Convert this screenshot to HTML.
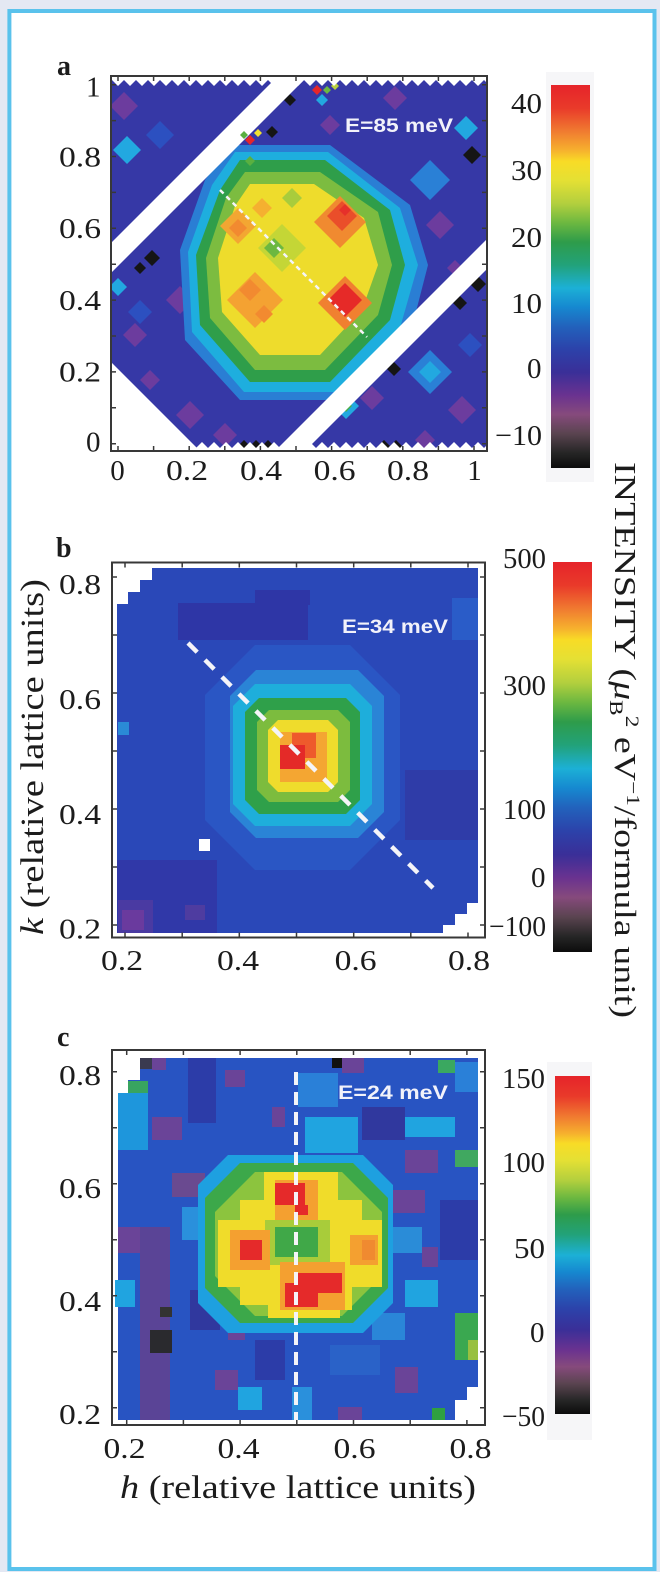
<!DOCTYPE html>
<html><head><meta charset="utf-8"><title>chart</title>
<style>
html,body{margin:0;padding:0;background:#e4e8f3}
svg{display:block}
.t{font-family:"Liberation Serif",serif;font-size:29px;fill:#1c1c1c}
.e{font-family:"Liberation Sans",sans-serif;font-weight:bold;font-size:19px;fill:#f2f2fa}
.lb{font-family:"Liberation Serif",serif;font-weight:bold;font-size:28px;fill:#1c1c1c}
.ax{font-family:"Liberation Serif",serif;font-size:33px;fill:#1c1c1c}
</style></head><body>
<svg width="660" height="1572" viewBox="0 0 660 1572" xmlns="http://www.w3.org/2000/svg">
<defs>
<linearGradient id="cmap" x1="0" y1="0" x2="0" y2="1">
<stop offset="0" stop-color="#e6242a"/>
<stop offset="0.06" stop-color="#e93a2a"/>
<stop offset="0.12" stop-color="#f07a30"/>
<stop offset="0.17" stop-color="#f6b02e"/>
<stop offset="0.20" stop-color="#f8dc26"/>
<stop offset="0.25" stop-color="#e4e034"/>
<stop offset="0.31" stop-color="#b2cf3e"/>
<stop offset="0.36" stop-color="#6cb840"/>
<stop offset="0.41" stop-color="#2e9c4a"/>
<stop offset="0.47" stop-color="#22a27a"/>
<stop offset="0.53" stop-color="#1cb0d6"/>
<stop offset="0.58" stop-color="#1688d0"/>
<stop offset="0.63" stop-color="#2262bc"/>
<stop offset="0.69" stop-color="#2c42aa"/>
<stop offset="0.75" stop-color="#3a2f98"/>
<stop offset="0.81" stop-color="#6a3290"/>
<stop offset="0.86" stop-color="#864a7c"/>
<stop offset="0.91" stop-color="#5a4450"/>
<stop offset="0.96" stop-color="#262626"/>
<stop offset="1" stop-color="#0c0c0c"/>
</linearGradient>
<clipPath id="ca"><rect x="112" y="77" width="374" height="373"/></clipPath>
<clipPath id="cb"><rect x="113" y="563.5" width="371" height="373"/></clipPath>
<clipPath id="cc"><rect x="113" y="1051" width="371" height="373"/></clipPath>
<pattern id="zt" x="112" y="80" width="12" height="6" patternUnits="userSpaceOnUse"><path d="M0 0H12L6 6Z" fill="#fff"/></pattern>
<pattern id="zb" x="112" y="442" width="12" height="6" patternUnits="userSpaceOnUse"><path d="M0 6H12L6 0Z" fill="#fff"/></pattern>
</defs>

<rect width="660" height="1572" fill="#e4e8f3"/>
<rect x="9.4" y="11" width="645.1" height="1558" fill="#ffffff" stroke="#5ac2ec" stroke-width="4"/>

<!-- ================= PANEL A ================= -->
<rect x="546" y="72" width="48" height="410" fill="#f6f6f8"/>
<g clip-path="url(#ca)">
<rect x="111" y="76" width="376" height="375" fill="#fff"/>
<rect x="112" y="80" width="374" height="368" fill="#3638a6"/>
<g fill="#6c3c9e">
<polygon points="124,92 138,106 124,120 110,106"/>
<polygon points="180,286 194,300 180,314 166,300"/>
<polygon points="135,323 147,335 135,347 123,335"/>
<polygon points="150,370 160,380 150,390 140,380"/>
<polygon points="190,401 204,415 190,429 176,415"/>
<polygon points="225,423 237,435 225,447 213,435"/>
<polygon points="440,211 454,225 440,239 426,225"/>
<polygon points="395,86 407,98 395,110 383,98"/>
<polygon points="372,386 384,398 372,410 360,398"/>
<polygon points="462,396 476,410 462,424 448,410"/>
<polygon points="425,430 435,440 425,450 415,440"/>
<polygon points="330,115 340,125 330,135 320,125"/>
<polygon points="160,200 170,210 160,220 150,210"/>
<polygon points="455,260 463,268 455,276 447,268"/>
</g>
<g fill="#2c50c0">
<polygon points="160,121 174,135 160,149 146,135"/>
<polygon points="470,333 482,345 470,357 458,345"/>
<polygon points="140,300 152,312 140,324 128,312"/>
</g>
<g fill="#2a80d6">
<polygon points="430,160 450,180 430,200 410,180"/>
<polygon points="430,350 452,372 430,394 408,372"/>
</g>
<g fill="#22a8e0">
<polygon points="127,136 141,150 127,164 113,150"/>
<polygon points="118,278 127,287 118,296 109,287"/>
<polygon points="466,116 478,128 466,140 454,128"/>
<polygon points="430,361 441,372 430,383 419,372"/>
<polygon points="346,393 359,406 346,419 333,406"/>
</g>
<polygon points="346,400 352,406 346,412 340,406" fill="#4aae4a"/>
<!-- blob -->
<polygon points="230,145 330,145 410,205 428,265 410,335 338,400 240,400 185,340 180,250 205,180" fill="#2a7ed4"/>
<polygon points="235,152 328,152 400,208 418,265 400,328 334,392 244,392 192,332 188,252 212,185" fill="#1eaede"/>
<polygon points="240,160 325,160 390,210 405,265 390,320 330,382 250,382 200,325 196,255 220,190" fill="#2f9e4a"/>
<polygon points="245,172 320,172 378,212 392,265 378,315 325,370 255,370 210,318 206,258 226,198" fill="#7cbc40"/>
<polygon points="250,184 314,184 364,218 378,265 362,310 320,355 260,355 222,312 218,258 235,206" fill="#eedc2c"/>
<polygon points="282,224 306,248 282,272 258,248" fill="#c4d636"/>
<polygon points="274,238 284,248 274,258 264,248" fill="#6cb840"/>
<polygon points="292,188 302,198 292,208 282,198" fill="#a8cc3c"/>
<!-- lobes -->
<polygon points="238,208 256,226 238,244 220,226" fill="#f3a632"/>
<polygon points="238,219 247,228 238,237 229,228" fill="#f28a30"/>
<polygon points="262,198 272,208 262,218 252,208" fill="#f5b030"/>
<polygon points="340,196 366,222 340,248 314,222" fill="#f08a30"/>
<polygon points="342,201 357,216 342,231 327,216" fill="#ea4e2a"/>
<polygon points="345,204 351,210 345,216 339,210" fill="#e6302a"/>
<polygon points="255,272 283,300 255,328 227,300" fill="#f4a232"/>
<polygon points="250,279 261,290 250,301 239,290" fill="#f28a30"/>
<polygon points="264,305 273,314 264,323 255,314" fill="#f28a30"/>
<polygon points="345,276 372,303 345,330 318,303" fill="#f08030"/>
<polygon points="345,283 362,300 345,317 328,300" fill="#e62a28"/>
<line x1="220" y1="190" x2="367" y2="337" stroke="#f4f4f8" stroke-width="2.5" stroke-dasharray="5 4"/>
<g fill="#151515">
<polygon points="272,126 278,132 272,138 266,132"/>
<polygon points="290,94 296,100 290,106 284,100"/>
<polygon points="152,250 160,258 152,266 144,258"/>
<polygon points="140,262 146,268 140,274 134,268"/>
<polygon points="472,146 481,155 472,164 463,155"/>
<polygon points="478,276 486,284 478,292 470,284"/>
<polygon points="460,296 467,303 460,310 453,303"/>
<polygon points="394,362 401,369 394,376 387,369"/>
<polygon points="244,440 250,446 244,452 238,446"/>
<polygon points="256,440 262,446 256,452 250,446"/>
<polygon points="268,440 274,446 268,452 262,446"/>
<polygon points="384,440 390,446 384,452 378,446"/>
<polygon points="396,440 402,446 396,452 390,446"/>
</g>
<g fill="#ffffff">
<polygon points="111,243 279,75 309,75 111,273"/>
<polygon points="488,238 488,268 305,451 275,451"/>
<polygon points="111,362 111,452 201,452"/>
</g>
<polygon points="250,135 255,140 250,145 245,140" fill="#e4262a"/>
<polygon points="258,129 262,133 258,137 254,133" fill="#f0e030"/>
<polygon points="244,131 248,135 244,139 240,135" fill="#5ab040"/>
<polygon points="250,156 255,161 250,166 245,161" fill="#5ab040"/>
<polygon points="322,94 328,100 322,106 316,100" fill="#22a8e0"/>
<polygon points="317,85 322,90 317,95 312,90" fill="#e4262a"/>
<polygon points="327,86 331,90 327,94 323,90" fill="#6cb840"/>
<polygon points="335,82 339,86 335,90 331,86" fill="#b8d040"/>
<rect x="112" y="77" width="374" height="3" fill="#fff"/>
<rect x="112" y="80" width="374" height="6" fill="url(#zt)"/>
<rect x="112" y="442" width="374" height="6" fill="url(#zb)"/>
<rect x="112" y="448" width="374" height="3" fill="#fff"/>
</g>
<text class="e" x="345" y="132" textLength="108" lengthAdjust="spacingAndGlyphs">E=85 meV</text>
<rect x="111" y="76" width="376" height="375" fill="none" stroke="#383838" stroke-width="2"/>
<path d="M118 451v-5M153.6 451v-5M189.2 451v-5M224.8 451v-5M260.4 451v-5M296 451v-5M331.6 451v-5M367.2 451v-5M402.8 451v-5M438.4 451v-5M474 451v-5M118 76v5M153.6 76v5M189.2 76v5M224.8 76v5M260.4 76v5M296 76v5M331.6 76v5M367.2 76v5M402.8 76v5M438.4 76v5M474 76v5M111 84.7h5M111 120.6h5M111 156.5h5M111 192.4h5M111 228.3h5M111 264.2h5M111 300.1h5M111 336h5M111 371.9h5M111 407.8h5M111 443.7h5M487 84.7h-5M487 120.6h-5M487 156.5h-5M487 192.4h-5M487 228.3h-5M487 264.2h-5M487 300.1h-5M487 336h-5M487 371.9h-5M487 407.8h-5M487 443.7h-5" stroke="#383838" stroke-width="1.5" fill="none"/>
<text class="lb" x="57" y="75">a</text>
<text class="t" x="86" y="96.7">1</text>
<text class="t" x="59" y="166.7" textLength="42" lengthAdjust="spacingAndGlyphs">0.8</text>
<text class="t" x="59" y="238" textLength="42" lengthAdjust="spacingAndGlyphs">0.6</text>
<text class="t" x="59" y="310" textLength="42" lengthAdjust="spacingAndGlyphs">0.4</text>
<text class="t" x="59" y="381.7" textLength="42" lengthAdjust="spacingAndGlyphs">0.2</text>
<text class="t" x="86" y="451.7">0</text>
<text class="t" x="110.3" y="480">0</text>
<text class="t" x="166" y="480" textLength="42" lengthAdjust="spacingAndGlyphs">0.2</text>
<text class="t" x="240" y="480" textLength="42" lengthAdjust="spacingAndGlyphs">0.4</text>
<text class="t" x="313.6" y="480" textLength="42" lengthAdjust="spacingAndGlyphs">0.6</text>
<text class="t" x="387" y="480" textLength="42" lengthAdjust="spacingAndGlyphs">0.8</text>
<text class="t" x="467.2" y="480">1</text>
<rect x="551" y="85" width="39" height="383" fill="url(#cmap)"/>
<text class="t" x="511" y="113" textLength="31" lengthAdjust="spacingAndGlyphs">40</text>
<text class="t" x="511" y="180" textLength="31" lengthAdjust="spacingAndGlyphs">30</text>
<text class="t" x="511" y="247" textLength="31" lengthAdjust="spacingAndGlyphs">20</text>
<text class="t" x="511" y="313" textLength="31" lengthAdjust="spacingAndGlyphs">10</text>
<text class="t" x="527" y="378">0</text>
<text class="t" x="495" y="445" textLength="47" lengthAdjust="spacingAndGlyphs">−10</text>

<!-- ================= PANEL B ================= -->
<g clip-path="url(#cb)">
<rect x="112" y="562" width="374" height="376" fill="#fff"/>
<path d="M152 568H478V903H467V914H455V925H443V933H117V604H128V592H140V580H152Z" fill="#2a48b8"/>
<rect x="178" y="603" width="130" height="37" fill="#2e36a6"/>
<rect x="255" y="590" width="55" height="15" fill="#2e36a6"/>
<rect x="452" y="598" width="26" height="42" fill="#2a5cc8"/>
<rect x="405" y="770" width="73" height="70" fill="#2f3ca8"/>
<rect x="117" y="860" width="100" height="73" fill="#3038a8"/>
<rect x="118" y="900" width="35" height="33" fill="#4a3aa2"/>
<rect x="122" y="910" width="22" height="20" fill="#6a3a9e"/>
<rect x="185" y="905" width="20" height="15" fill="#4e3ca0"/>
<rect x="118" y="722" width="11" height="13" fill="#2a8ad6"/>
<polygon points="255,645 350,645 400,695 400,820 350,870 255,870 205,820 205,695" fill="#2a56c4"/>
<polygon points="256,670 358,670 384,696 384,812 358,838 256,838 230,812 230,696" fill="#2a84d6"/>
<polygon points="255,684 350,684 372,706 372,804 350,826 255,826 233,804 233,706" fill="#1eaedb"/>
<polygon points="259,698 346,698 360,712 360,800 346,814 259,814 245,800 245,712" fill="#2fa04a"/>
<polygon points="269,710 338,710 350,722 350,790 338,802 269,802 257,790 257,722" fill="#7cbc3e"/>
<polygon points="278,720 328,720 338,730 338,782 328,792 278,792 268,782 268,730" fill="#efdc2c"/>
<rect x="280" y="732" width="47" height="50" fill="#f4a632"/>
<rect x="292" y="733" width="24" height="25" fill="#ee5a2c"/>
<rect x="280" y="745" width="25" height="24" fill="#e42a28"/>
<rect x="199" y="839" width="11" height="12" fill="#ffffff"/>
<line x1="188" y1="643" x2="433" y2="888" stroke="#f4f4f8" stroke-width="4.5" stroke-dasharray="13 11"/>
</g>
<text class="e" x="342" y="633" textLength="106" lengthAdjust="spacingAndGlyphs">E=34 meV</text>
<rect x="112" y="562.5" width="373" height="375" fill="none" stroke="#383838" stroke-width="2"/>
<path d="M125 937.5v-5M182.2 937.5v-5M239.3 937.5v-5M296.5 937.5v-5M353.7 937.5v-5M410.8 937.5v-5M468 937.5v-5M125 562.5v5M182.2 562.5v5M239.3 562.5v5M296.5 562.5v5M353.7 562.5v5M410.8 562.5v5M468 562.5v5M112 577h5M112 635h5M112 693h5M112 751h5M112 809h5M112 867h5M112 925h5M485 577h-5M485 635h-5M485 693h-5M485 751h-5M485 809h-5M485 867h-5M485 925h-5" stroke="#383838" stroke-width="1.5" fill="none"/>
<text class="lb" x="56" y="557">b</text>
<text class="t" x="59" y="594" textLength="42" lengthAdjust="spacingAndGlyphs">0.8</text>
<text class="t" x="59" y="709" textLength="42" lengthAdjust="spacingAndGlyphs">0.6</text>
<text class="t" x="59" y="824" textLength="42" lengthAdjust="spacingAndGlyphs">0.4</text>
<text class="t" x="59" y="938.5" textLength="42" lengthAdjust="spacingAndGlyphs">0.2</text>
<text class="t" x="101" y="970" textLength="42" lengthAdjust="spacingAndGlyphs">0.2</text>
<text class="t" x="217" y="970" textLength="42" lengthAdjust="spacingAndGlyphs">0.4</text>
<text class="t" x="334.6" y="970" textLength="42" lengthAdjust="spacingAndGlyphs">0.6</text>
<text class="t" x="448" y="970" textLength="42" lengthAdjust="spacingAndGlyphs">0.8</text>
<text class="ax" transform="translate(43,935) rotate(-90)" textLength="356" lengthAdjust="spacingAndGlyphs"><tspan font-style="italic">k</tspan> (relative lattice units)</text>
<rect x="553" y="562" width="39" height="390" fill="url(#cmap)"/>
<text class="t" x="503" y="568" textLength="43" lengthAdjust="spacingAndGlyphs">500</text>
<text class="t" x="503" y="695" textLength="43" lengthAdjust="spacingAndGlyphs">300</text>
<text class="t" x="503" y="819" textLength="43" lengthAdjust="spacingAndGlyphs">100</text>
<text class="t" x="531" y="887">0</text>
<text class="t" x="489" y="936" textLength="57" lengthAdjust="spacingAndGlyphs">−100</text>

<text transform="translate(615,462) rotate(90)" font-family="Liberation Serif, serif" font-size="31" fill="#1c1c1c" textLength="556" lengthAdjust="spacingAndGlyphs">INTENSITY (<tspan font-style="italic">μ</tspan><tspan font-size="19" dy="5">B</tspan><tspan font-size="19" dy="-16">2</tspan><tspan dy="11"> eV</tspan><tspan font-size="19" dy="-12">−1</tspan><tspan dy="12">/formula unit)</tspan></text>

<!-- ================= PANEL C ================= -->
<rect x="547" y="1062" width="45" height="378" fill="#f6f6f8"/>
<g clip-path="url(#cc)">
<rect x="112" y="1050" width="374" height="376" fill="#fff"/>
<path d="M140 1058H478V1387H467V1400H455V1420H118V1093H128V1080H140Z" fill="#2854c2"/>
<rect x="118" y="1093" width="30" height="57" fill="#1e96dc"/>
<rect x="128" y="1081" width="20" height="12" fill="#38a460"/>
<rect x="140" y="1058" width="12" height="11" fill="#3a3a50"/>
<rect x="152" y="1058" width="14" height="12" fill="#6a4498"/>
<rect x="152" y="1117" width="30" height="23" fill="#6a4498"/>
<rect x="188" y="1058" width="28" height="65" fill="#2c3ca8"/>
<rect x="225" y="1070" width="20" height="17" fill="#6a4498"/>
<rect x="272" y="1107" width="13" height="20" fill="#6a4498"/>
<rect x="298" y="1073" width="40" height="34" fill="#2a80d8"/>
<rect x="305" y="1117" width="53" height="36" fill="#20a4e0"/>
<rect x="332" y="1058" width="10" height="10" fill="#111"/>
<rect x="342" y="1058" width="22" height="15" fill="#6a4498"/>
<rect x="362" y="1107" width="43" height="33" fill="#30389e"/>
<rect x="405" y="1117" width="50" height="20" fill="#20a4e0"/>
<rect x="438" y="1060" width="17" height="13" fill="#3aa860"/>
<rect x="455" y="1062" width="23" height="30" fill="#2a80d8"/>
<rect x="455" y="1150" width="23" height="17" fill="#40a860"/>
<rect x="405" y="1150" width="33" height="23" fill="#6a4498"/>
<rect x="378" y="1190" width="47" height="23" fill="#6a4498"/>
<rect x="172" y="1173" width="33" height="24" fill="#6a4a90"/>
<rect x="118" y="1227" width="27" height="26" fill="#6a4498"/>
<rect x="182" y="1207" width="16" height="33" fill="#2a90dc"/>
<rect x="392" y="1227" width="30" height="26" fill="#2a8cd8"/>
<rect x="422" y="1247" width="16" height="20" fill="#6a4498"/>
<rect x="440" y="1200" width="38" height="60" fill="#2c3ca8"/>
<rect x="140" y="1227" width="30" height="193" fill="#5a4496"/>
<rect x="160" y="1307" width="12" height="10" fill="#333"/>
<rect x="150" y="1330" width="22" height="23" fill="#2a2a2e"/>
<rect x="115" y="1280" width="20" height="27" fill="#20a4e0"/>
<rect x="190" y="1290" width="30" height="40" fill="#30389e"/>
<rect x="228" y="1317" width="17" height="23" fill="#6a4498"/>
<rect x="215" y="1370" width="23" height="20" fill="#6a4498"/>
<rect x="238" y="1387" width="24" height="23" fill="#20a4e0"/>
<rect x="255" y="1340" width="30" height="40" fill="#2c3ca8"/>
<rect x="330" y="1345" width="50" height="30" fill="#2a62c8"/>
<rect x="372" y="1313" width="33" height="27" fill="#2a86d8"/>
<rect x="405" y="1280" width="33" height="27" fill="#20a4e0"/>
<rect x="395" y="1367" width="23" height="26" fill="#6a4498"/>
<rect x="455" y="1313" width="23" height="47" fill="#3aa850"/>
<rect x="468" y="1340" width="10" height="20" fill="#98c040"/>
<rect x="338" y="1407" width="24" height="13" fill="#6a4498"/>
<rect x="432" y="1408" width="13" height="12" fill="#2fa040"/>
<rect x="292" y="1387" width="20" height="33" fill="#2a90dc"/>
<polygon points="228,1155 363,1155 393,1185 393,1303 363,1333 228,1333 198,1303 198,1185" fill="#1ea0e0"/>
<polygon points="240,1163 353,1163 388,1198 388,1288 353,1323 240,1323 205,1288 205,1198" fill="#3ca84a"/>
<polygon points="255,1172 342,1172 382,1212 382,1276 342,1316 255,1316 215,1276 215,1212" fill="#8cc43e"/>
<path d="M264 1172H338V1200H362V1220H382V1287H352V1310H340V1318H268V1305H240V1287H218V1220H240V1200H264Z" fill="#f0dc2a"/>
<rect x="265" y="1220" width="65" height="45" fill="#a8cc3a"/>
<rect x="275" y="1227" width="43" height="30" fill="#40a848"/>
<rect x="275" y="1180" width="43" height="40" fill="#f4a030"/>
<rect x="230" y="1230" width="40" height="40" fill="#f4a030"/>
<rect x="350" y="1235" width="28" height="30" fill="#f4a030"/>
<rect x="280" y="1262" width="65" height="48" fill="#f4a030"/>
<rect x="275" y="1183" width="30" height="22" fill="#e52a2a"/>
<rect x="295" y="1205" width="13" height="10" fill="#e52a2a"/>
<rect x="240" y="1240" width="22" height="20" fill="#e52a2a"/>
<rect x="362" y="1240" width="13" height="20" fill="#f08a30"/>
<rect x="297" y="1273" width="45" height="20" fill="#e52a2a"/>
<rect x="285" y="1283" width="33" height="24" fill="#e52a2a"/>
<line x1="296" y1="1072" x2="296" y2="1420" stroke="#f4f4f8" stroke-width="4" stroke-dasharray="13 7"/>
</g>
<text class="e" x="338" y="1099" textLength="110" lengthAdjust="spacingAndGlyphs">E=24 meV</text>
<rect x="112" y="1050" width="373" height="375" fill="none" stroke="#383838" stroke-width="2"/>
<path d="M126.7 1425v-5M183.4 1425v-5M240.1 1425v-5M296.8 1425v-5M353.5 1425v-5M410.2 1425v-5M466.9 1425v-5M126.7 1050v5M183.4 1050v5M240.1 1050v5M296.8 1050v5M353.5 1050v5M410.2 1050v5M466.9 1050v5M112 1071.7h5M112 1127.7h5M112 1183.7h5M112 1239.7h5M112 1295.7h5M112 1351.7h5M112 1407.7h5M485 1071.7h-5M485 1127.7h-5M485 1183.7h-5M485 1239.7h-5M485 1295.7h-5M485 1351.7h-5M485 1407.7h-5" stroke="#383838" stroke-width="1.5" fill="none"/>
<text class="lb" x="57" y="1046">c</text>
<text class="t" x="59" y="1085" textLength="42" lengthAdjust="spacingAndGlyphs">0.8</text>
<text class="t" x="59" y="1198" textLength="42" lengthAdjust="spacingAndGlyphs">0.6</text>
<text class="t" x="59" y="1311" textLength="42" lengthAdjust="spacingAndGlyphs">0.4</text>
<text class="t" x="59" y="1424" textLength="42" lengthAdjust="spacingAndGlyphs">0.2</text>
<text class="t" x="103.5" y="1458" textLength="42" lengthAdjust="spacingAndGlyphs">0.2</text>
<text class="t" x="217.5" y="1458" textLength="42" lengthAdjust="spacingAndGlyphs">0.4</text>
<text class="t" x="333.5" y="1458" textLength="42" lengthAdjust="spacingAndGlyphs">0.6</text>
<text class="t" x="449.5" y="1458" textLength="42" lengthAdjust="spacingAndGlyphs">0.8</text>
<text class="ax" x="120" y="1498" textLength="356" lengthAdjust="spacingAndGlyphs"><tspan font-style="italic">h</tspan> (relative lattice units)</text>
<rect x="555" y="1076" width="35" height="338" fill="url(#cmap)"/>
<text class="t" x="502" y="1088" textLength="43" lengthAdjust="spacingAndGlyphs">150</text>
<text class="t" x="502" y="1172" textLength="43" lengthAdjust="spacingAndGlyphs">100</text>
<text class="t" x="514" y="1258" textLength="31" lengthAdjust="spacingAndGlyphs">50</text>
<text class="t" x="530" y="1342">0</text>
<text class="t" x="502" y="1426" textLength="43" lengthAdjust="spacingAndGlyphs">−50</text>
</svg>
</body></html>
